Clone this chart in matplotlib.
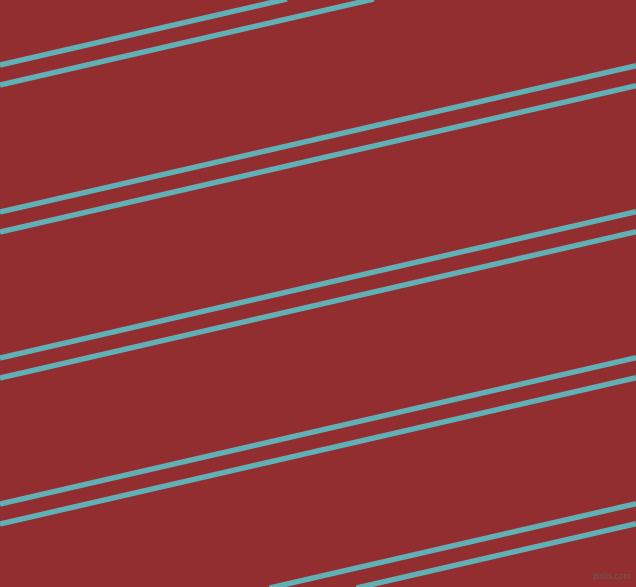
import numpy as np
import matplotlib
matplotlib.use("Agg")
import matplotlib.pyplot as plt

# y where each stripe crosses the left edge (pixels, from top)
left_y = [65, 85, 212, 232, 358, 378, 504, 524, 650, 670]
drop = 146.3  # how much a stripe rises over the full width

W, H = 636, 587
bg = "#922D30"
stripe = "#60B0B6"

fig = plt.figure(figsize=(W / 100, H / 100), dpi=100)
ax = fig.add_axes([0, 0, 1, 1])
ax.set_facecolor(bg)
fig.patch.set_facecolor(bg)

xs = np.array([0, W])
for y0 in left_y:
    ax.plot(xs, y0 - drop * xs / W, color=stripe, lw=3.9, solid_capstyle="butt")

ax.set_xlim(0, W)
ax.set_ylim(H, 0)
ax.axis("off")

ax.text(631, 581, "pixlis.com", fontsize=5.5, color="#6a5a5a",
        ha="right", va="bottom")

fig.savefig("out.png", dpi=100, facecolor=bg)
